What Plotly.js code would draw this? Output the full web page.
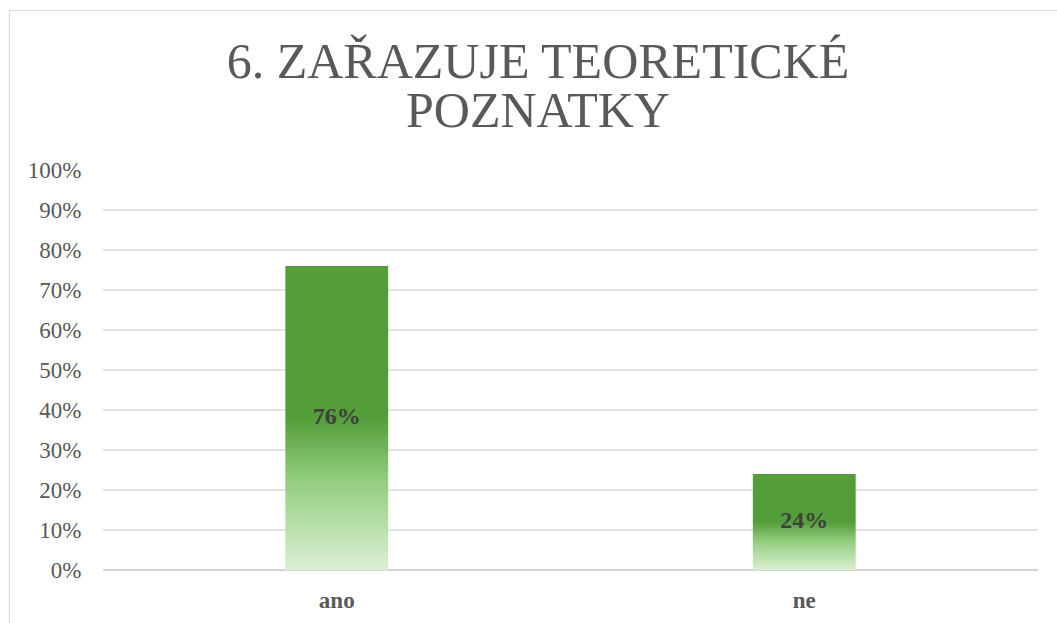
<!DOCTYPE html>
<html>
<head>
<meta charset="utf-8">
<script src="https://cdn.plot.ly/plotly-3.0.1.min.js"></script>
<style>
html,body{margin:0;padding:0;background:#fff;overflow:hidden;}
#wrap{position:relative;width:1057px;height:623px;}
#chart{position:absolute;left:0;top:0;width:1057px;height:623px;}
#frame{position:absolute;left:9px;top:10px;width:1060px;height:640px;border:1.5px solid #d9d9d9;pointer-events:none;box-sizing:border-box;}
</style>
</head>
<body>
<div id="wrap"><div id="chart"></div><div id="frame"></div></div>
<script>
const categories = ['ano', 'ne'];
const values = [0.76, 0.24];
const titleLines = ['6. ZAŘAZUJE TEORETICKÉ', 'POZNATKY'];

const halfWidth = 0.11;
const serif = 'Liberation Serif';
const titleFont = {family: 'Liberation Serif', size: 50, color: '#595959', weight: 'normal'};
const gradientScale = [
  [0, '#dbefd4'],
  [0.12, '#bde2b0'],
  [0.3, '#92cc7e'],
  [0.42, '#6cb055'],
  [0.5, '#549e3a'],
  [1, '#549e3a']
];

const traces = categories.map((c, i) => ({
  type: 'scatter',
  mode: 'lines',
  x: [i - halfWidth, i - halfWidth, i + halfWidth, i + halfWidth, i - halfWidth],
  y: [0, values[i], values[i], 0, 0],
  fill: 'toself',
  fillgradient: {type: 'vertical', start: 0, stop: values[i], colorscale: gradientScale},
  line: {width: 0, color: 'rgba(0,0,0,0)'},
  hoverinfo: 'skip',
  showlegend: false,
  name: c
}));

traces.push({
  type: 'scatter',
  mode: 'text',
  x: categories.map((c, i) => i),
  y: values.map(v => v / 2),
  text: values.map(v => Math.round(v * 100) + '%'),
  textposition: 'middle center',
  textfont: {family: serif, size: 24, color: '#404040', weight: 'bold'},
  hovertext: categories.map((c, i) => c + ': ' + Math.round(values[i] * 100) + '%'),
  hoverinfo: 'text',
  showlegend: false
});

const layout = {
  width: 1057,
  height: 623,
  paper_bgcolor: '#ffffff',
  plot_bgcolor: '#ffffff',
  margin: {l: 103, r: 19, t: 170, b: 53},
  showlegend: false,
  title: {
    text: titleLines[0],
    font: titleFont,
    x: 0.509,
    xanchor: 'center',
    xref: 'container',
    y: 0.903,
    yanchor: 'middle',
    yref: 'container'
  },
  annotations: [{
    text: titleLines[1],
    font: titleFont,
    xref: 'paper',
    yref: 'paper',
    x: 0.4652,
    y: 1.149,
    xanchor: 'center',
    yanchor: 'middle',
    showarrow: false
  }],
  xaxis: {
    range: [-0.5, 1.5],
    tickmode: 'array',
    tickvals: categories.map((c, i) => i),
    ticktext: categories,
    showgrid: false,
    zeroline: false,
    showline: false,
    ticks: 'outside',
    ticklen: 9,
    tickcolor: 'rgba(0,0,0,0)',
    tickfont: {family: serif, size: 23, color: '#595959', weight: 'bold'},
    fixedrange: true
  },
  yaxis: {
    range: [0, 1],
    tickmode: 'linear',
    tick0: 0,
    dtick: 0.1,
    tickformat: '.0%',
    showgrid: true,
    gridcolor: '#e3e3e3',
    gridwidth: 2,
    zeroline: true,
    zerolinecolor: '#d4d4d4',
    zerolinewidth: 2,
    showline: false,
    ticks: 'outside',
    ticklen: 16,
    tickcolor: 'rgba(0,0,0,0)',
    tickfont: {family: serif, size: 23, color: '#595959'},
    fixedrange: true
  }
};

Plotly.newPlot('chart', traces, layout, {displayModeBar: false});
</script>
</body>
</html>
